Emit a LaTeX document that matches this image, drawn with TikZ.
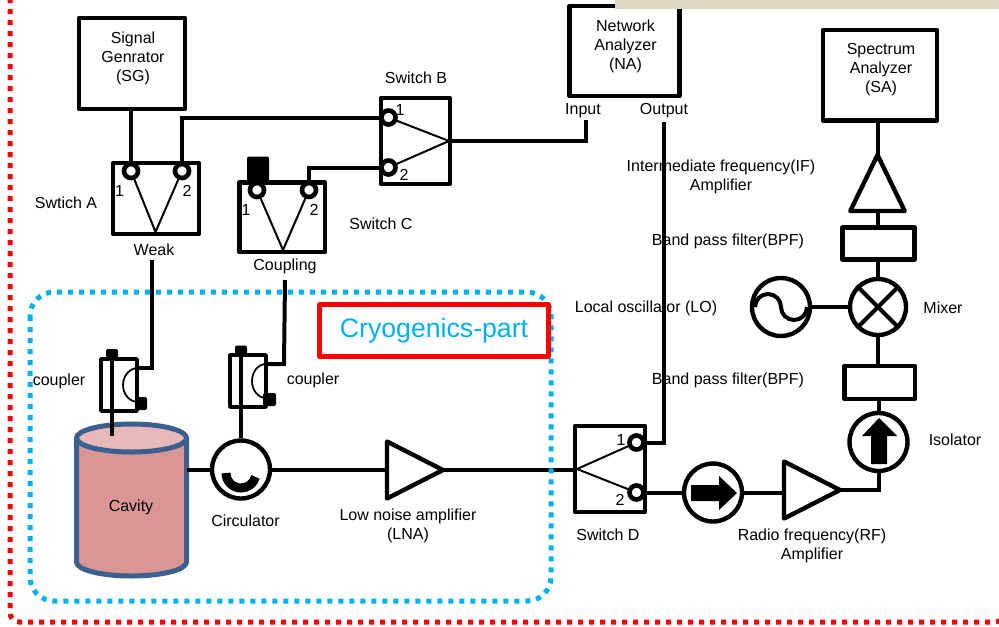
\documentclass[tikz,border=0pt]{standalone}
\usepackage{fontspec}
\setmainfont{Liberation Sans}
\usetikzlibrary{calc,shapes.geometric}
\definecolor{cavfill}{HTML}{D99694}
\definecolor{cavtop}{HTML}{E6B9B8}
\definecolor{cavline}{HTML}{3B5F8F}
\definecolor{cryo}{HTML}{00B0F0}
\definecolor{beige}{HTML}{DDD8C2}
\tikzset{
  wire/.style={line width=3pt},
  thinline/.style={line width=1.5pt},
  devbox/.style 2 args={draw,line width=3.3pt,line join=round,fill=white,inner sep=0pt,rectangle,minimum width=#1*0.75pt,minimum height=#2*0.75pt},
  smallbox/.style 2 args={draw,line width=2.6pt,line join=round,rectangle,inner sep=0pt,minimum width=#1*0.75pt,minimum height=#2*0.75pt},
  portc/.style={draw,circle,fill=white,inner sep=0pt,line width=3.5pt,minimum size=10.5pt},
  blackblock/.style 2 args={fill=black,rectangle,rounded corners=1.5pt,inner sep=0pt,minimum width=#1*0.75pt,minimum height=#2*0.75pt},
  ringc/.style={draw,circle,fill=white,inner sep=0pt,line width=3.3pt,minimum size=#1*0.75pt},
  amp/.style 2 args={draw,isosceles triangle,isosceles triangle stretches,inner sep=0pt,outer sep=0pt,line width=3.3pt,line join=round,fill=white,minimum width=#1*0.75pt,minimum height=#2*0.75pt},
  lab/.style={inner sep=0pt,align=center,font=\fontsize{12}{14.25}\selectfont},
  num/.style={inner sep=0pt,font=\fontsize{12}{14.25}\selectfont},
}
\begin{document}
\begin{tikzpicture}[x=0.75pt,y=-0.75pt]
\useasboundingbox (0,0) rectangle (999,626);
\clip (0,0) rectangle (999,626);
% outer red dotted frame
\draw[red,line width=3.75pt,dash pattern=on 3.75pt off 4.5pt,rounded corners=7pt]
  (10,-2) -- (10,622) -- (1005,622) -- (1005,600);
% boxes
\node[devbox={106}{91}] (sg) at (132,63.5) {};
\node[devbox={86}{71}] (swa) at (156,198.5) {};
\node[blackblock={22}{27}] (blkc) at (258,170) {};
\node[devbox={85.5}{69.5}] (swc) at (282.25,217.25) {};
\node[devbox={69}{86}] (swb) at (415.5,141) {};
\node[devbox={110}{90}] (na) at (624.5,51) {};
\node[devbox={114}{90.5}] (sa) at (880,75.25) {};
\node[devbox={70}{86}] (swd) at (610,469) {};
\node[devbox={72}{32}] (bpfu) at (878.5,243.5) {};
\node[devbox={70.5}{33}] (bpfl) at (879.75,382.5) {};
% ports
\coordinate (pa1) at (131,171);
\coordinate (pa2) at (182,171);
\coordinate (pc1) at (257,190);
\coordinate (pc2) at (309,190);
\coordinate (pb1) at (388.5,117.5);
\coordinate (pb2) at (388.5,167.5);
\coordinate (pd1) at (636.5,442.5);
\coordinate (pd2) at (636.5,492.5);
\coordinate (apexa) at (155.5,232);
\coordinate (apexc) at (283,250);
\coordinate (apexb) at (449,141);
\coordinate (apexd) at (577,469);
\draw[thinline] (pa1) -- (apexa) -- (pa2);
\draw[thinline] (pc1) -- (apexc) -- (pc2);
\draw[thinline] (pb1) -- (apexb) -- (pb2);
\draw[thinline] (pd1) -- (apexd) -- (pd2);
\node[portc] (npa1) at (pa1) {};
\node[portc] (npa2) at (pa2) {};
\node[portc] (npc1) at (pc1) {};
\node[portc] (npc2) at (pc2) {};
\node[portc] (npb1) at (pb1) {};
\node[portc] (npb2) at (pb2) {};
\node[portc] (npd1) at (pd1) {};
\node[portc] (npd2) at (pd2) {};
% couplers
\node[smallbox={36}{52}] (cp1) at (119,385) {};
\node[smallbox={36}{52}] (cp2) at (248,381) {};
\node[blackblock={12}{11}] (b1t) at (112,354.5) {};
\node[blackblock={12}{13}] (b1b) at (141,403.5) {};
\node[blackblock={12}{11}] (b2t) at (241,351) {};
\node[blackblock={13}{13}] (b2b) at (269.5,399.5) {};
\draw[line width=1.3pt] (138,368) arc[start angle=270,end angle=90,x radius=15,y radius=17];
\draw[line width=1.3pt] (266,364) arc[start angle=270,end angle=90,x radius=14,y radius=17];
% cavity
\draw[cavline,fill=cavfill,line width=3.75pt,line join=round] (76.5,438) -- (76.5,562)
  arc[start angle=180,end angle=0,x radius=55,y radius=14] -- (186.5,438) -- cycle;
\node[draw=cavline,fill=cavtop,ellipse,inner sep=0pt,line width=3.75pt,minimum width=110*0.75pt,minimum height=28*0.75pt] (cavt) at (131.5,438) {};
\coordinate (cavr) at (187,470);
\node[lab] (cavlab) at (131,507) {Cavity};
% round devices
\node[ringc=58] (circ) at (241,469.5) {};
\draw[line width=6.75pt] (226,473) arc[start angle=180,end angle=15,radius=15];
\node[ringc=58] (isoh) at (713,492.5) {};
\node[ringc=58] (isov) at (878.5,442) {};
\node[ringc=58] (osc) at (781,307) {};
\node[ringc=56] (mix) at (878,307) {};
\fill (691,485) -- (719,485) -- (719,476) -- (737,493) -- (719,510) -- (719,501) -- (691,501) -- cycle;
\fill (879,418) -- (897,436) -- (887,436) -- (887,464) -- (871,464) -- (871,436) -- (862,436) -- cycle;
\draw[wire] (755,307) arc[start angle=180,end angle=360,radius=13] arc[start angle=180,end angle=0,radius=13];
\draw[wire] (mix.45) -- (mix.225);
\draw[wire] (mix.135) -- (mix.315);
% amplifiers
\node[amp={57}{56},anchor=apex] (lna) at (443,470) {};
\node[amp={57}{56},anchor=apex] (rfa) at (840,490) {};
\node[amp={54.5}{56},shape border rotate=90,anchor=apex] (ifa) at (877.5,155) {};
% wires
\draw[wire] (sg.south -| npa1) -- (npa1.north);
\draw[wire] (npa2.north) |- (npb1.west);
\draw[wire] (npc2.north) |- (npb2.west);
\coordinate (nain) at (586,120);
\coordinate (naout) at (664,122);
\draw[wire] (swb.east |- apexb) -- (apexb -| nain) -- (nain);
\draw[wire] (npd1.east) -| (naout);
\coordinate (weakend) at (152,260);
\coordinate (coupend) at (285,280);
\draw[wire] (weakend) -- (152,368) -- (cp1.east |- 0,368);
\draw[wire] (b1t) -- (112,436);
\draw[wire] (b2t) -- (circ.north -| b2t);
\draw[wire] (cavr) -- (circ.west |- cavr);
\draw[wire] (circ.east) -- (circ.east -| lna.lower side);
\draw[wire] (lna.apex) -- (swd.west |- lna.apex);
\draw[wire] (npd2.east) -- (isoh.west);
\draw[wire] (isoh.east) -- (isoh.east -| rfa.lower side);
\draw[wire] (rfa.apex) -| (isov.south);
\draw[wire] (isov.north) -- (bpfl.south -| isov.north);
\draw[wire] (bpfl.north -| mix.south) -- (mix.south);
\draw[wire] (mix.north) -- (bpfu.south -| mix.north);
\draw[wire] (bpfu.north -| ifa.apex) -- (ifa.lower side);
\draw[wire] (ifa.apex) -- (sa.south -| ifa.apex);
\draw[wire] (osc.east) -- (mix.west);
% cryogenics region
\draw[cryo,line width=3.75pt,dash pattern=on 3.75pt off 4.5pt,rounded corners=18pt] (30,292) rectangle (551,601);
\draw[wire] (coupend) -- (284,364) -- (cp2.east |- 0,364);
\node[draw=red,fill=white,line width=3.75pt,line join=round,rectangle,inner sep=0pt,minimum width=229*0.75pt,minimum height=52*0.75pt,text=cryo,font=\fontsize{20}{24}\selectfont] (cryolab) at (434,330.5) {Cryogenics-part};
% beige strip
\fill[beige] (615,0) rectangle (999,9);
% labels
\node[lab] (lsg) at (133,58.5) {Signal\\Genrator\\(SG)};
\node[lab] (lna2) at (625.5,46) {Network\\Analyzer\\(NA)};
\node[lab] (lsa) at (881,70) {Spectrum\\Analyzer\\(SA)};
\node[lab] (lswb) at (416,78) {Switch B};
\node[lab] (lswa) at (66,202.5) {Swtich A};
\node[lab] (lswc) at (381,224) {Switch C};
\node[lab] (lswd) at (608,535) {Switch D};
\node[lab] (lweak) at (154,249.5) {Weak};
\node[lab] (lcoup) at (285,266.5) {Coupling};
\node[lab] (lcp1) at (59,381.5) {coupler};
\node[lab] (lcp2) at (313,380.5) {coupler};
\node[lab] (lcirc) at (245.5,521) {Circulator};
\node[lab] (llna) at (408,526) {Low noise amplifier\\(LNA)};
\node[lab] (lin) at (583,111) {Input};
\node[lab] (lout) at (664,111) {Output};
\node[lab] (lif) at (721,177) {Intermediate frequency(IF)\\Amplifier};
\node[lab] (lbu) at (728,241) {Band pass filter(BPF)};
\node[lab] (llo) at (646,308.5) {Local oscillator (LO)};
\node[lab] (lmix) at (943,308) {Mixer};
\node[lab] (lbl) at (728,380) {Band pass filter(BPF)};
\node[lab] (liso) at (955,440) {Isolator};
\node[lab] (lrf) at (812,546) {Radio frequency(RF)\\Amplifier};
\node[num] (na1) at (119.5,191) {1};
\node[num] (na2) at (187,191) {2};
\node[num] (nc1) at (246,210) {1};
\node[num] (nc2) at (314,210) {2};
\node[num] (nb1) at (400,110) {1};
\node[num] (nb2) at (404,175) {2};
\node[num] (nd1) at (621,440) {1};
\node[num] (nd2) at (620,500) {2};
\end{tikzpicture}
\end{document}
